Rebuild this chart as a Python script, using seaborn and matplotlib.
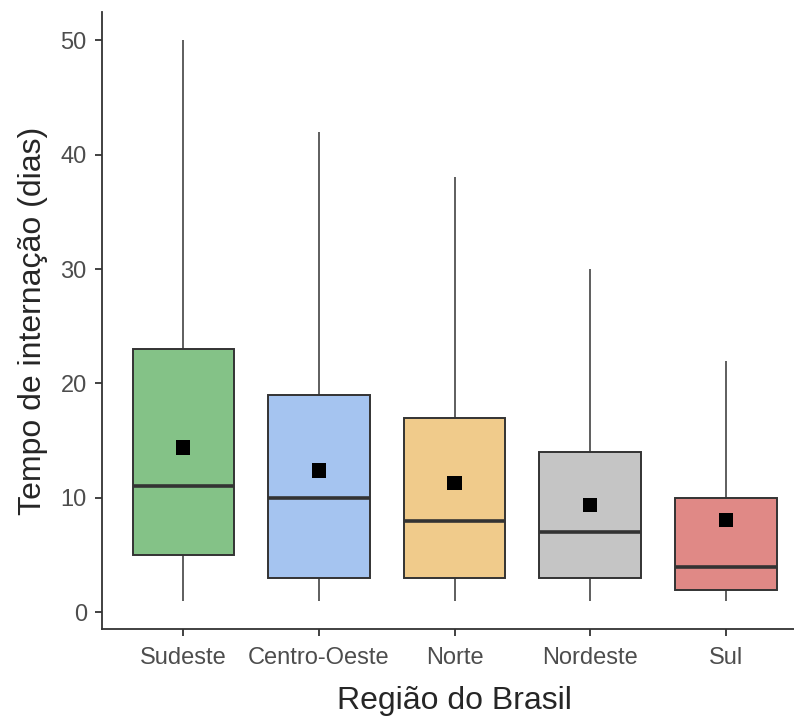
import matplotlib
matplotlib.use("Agg")
import matplotlib.pyplot as plt
import seaborn as sns
import pandas as pd
import numpy as np

# Hospital stay summary (days) by Brazilian region
regioes = ["Sudeste", "Centro-Oeste", "Norte", "Nordeste", "Sul"]
minimo = [1, 1, 1, 1, 1]
q1 = [5, 3, 3, 3, 2]
mediana = [11, 10, 8, 7, 4]
q3 = [23, 19, 17, 14, 10]
maximo = [50, 42, 38, 30, 22]
media = [14.4, 12.4, 11.3, 9.4, 8.1]
cores = ["#84c287", "#a5c4f0", "#f0cb8b", "#c5c5c5", "#e08986"]

# Five summary values per region: quartiles of these five points reproduce the box exactly
linhas = []
for i, r in enumerate(regioes):
    for v in (minimo[i], q1[i], mediana[i], q3[i], maximo[i]):
        linhas.append({"regiao": r, "dias": v})
df = pd.DataFrame(linhas)
df_media = pd.DataFrame({"regiao": regioes, "dias": media})

sns.set_theme(style="ticks")
plt.rcParams["font.family"] = ["Liberation Sans", "DejaVu Sans"]

fig = plt.figure(figsize=(7.94, 7.16), dpi=100)
ax = fig.add_axes([0.1285, 0.1215, 0.888, 0.8617])

edge = "#333333"
sns.boxplot(
    data=df, x="regiao", y="dias", hue="regiao", order=regioes, hue_order=regioes,
    palette=cores, whis=(0, 100), width=0.75, dodge=False, legend=False,
    linewidth=1.4, linecolor=edge, showcaps=False, fliersize=0,
    medianprops={"linewidth": 2.6, "color": edge},
    whiskerprops={"linewidth": 1.1, "color": edge},
    saturation=1, ax=ax,
)
sns.scatterplot(
    data=df_media, x="regiao", y="dias", marker="s", s=105, color="black",
    edgecolor="none", zorder=5, ax=ax,
)

ax.set_xlim(-0.6, 4.6)
ax.set_ylim(-1.45, 52.45)
ax.set_yticks([0, 10, 20, 30, 40, 50])
ax.set_xlabel("Região do Brasil", fontsize=23, color="#262626", labelpad=12)
ax.set_ylabel("Tempo de internação (dias)", fontsize=23, color="#262626", labelpad=9)
ax.tick_params(axis="both", labelsize=17, colors="#4d4d4d", length=5, width=1.3,
               direction="out")
ax.tick_params(axis="x", pad=8)
ax.tick_params(axis="y", pad=6)
for t in ax.get_xticklabels() + ax.get_yticklabels():
    t.set_color("#4d4d4d")
ax.tick_params(axis="both", color="#333333")
sns.despine(ax=ax)
for s in ("left", "bottom"):
    ax.spines[s].set_color("#333333")
    ax.spines[s].set_linewidth(1.3)

fig.savefig("out.png", dpi=100)
